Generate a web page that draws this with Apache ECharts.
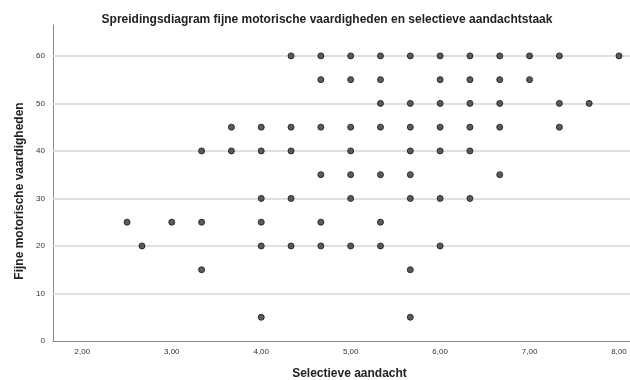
<!DOCTYPE html>
<html>
<head>
<meta charset="utf-8">
<script src="https://cdn.jsdelivr.net/npm/echarts@6/dist/echarts.min.js"></script>
<style>html,body{margin:0;padding:0;background:#fff;}#c{width:630px;height:380px;}</style>
</head>
<body>
<div id="c"></div>
<script>
// Selectieve aandacht (x) values per row of Fijne motorische vaardigheden (y)
const t = 1/3;
const rowY = [60, 55, 50, 45, 40, 35, 30, 25, 20, 15, 5];
const rowX = [
  [4+t, 4+2*t, 5, 5+t, 5+2*t, 6, 6+t, 6+2*t, 7, 7+t, 8],
  [4+2*t, 5, 5+t, 6, 6+t, 6+2*t, 7],
  [5+t, 5+2*t, 6, 6+t, 6+2*t, 7+t, 7+2*t],
  [3+2*t, 4, 4+t, 4+2*t, 5, 5+t, 5+2*t, 6, 6+t, 6+2*t, 7+t],
  [3+t, 3+2*t, 4, 4+t, 5, 5+2*t, 6, 6+t],
  [4+2*t, 5, 5+t, 5+2*t, 6+2*t],
  [4, 4+t, 5, 5+2*t, 6, 6+t],
  [2.5, 3, 3+t, 4, 4+2*t, 5+t],
  [2+2*t, 4, 4+t, 4+2*t, 5, 5+t, 6],
  [3+t, 5+2*t],
  [4, 5+2*t]
];
const xTicks = [2, 3, 4, 5, 6, 7, 8];
const yTicks = [0, 10, 20, 30, 40, 50, 60];

const points = [];
rowY.forEach((y, i) => rowX[i].forEach(x => points.push([x, y])));

const chart = echarts.init(document.getElementById('c'), null, {renderer: 'canvas'});
chart.setOption({
  backgroundColor: '#ffffff',
  animation: false,
  title: {
    text: 'Spreidingsdiagram fijne motorische vaardigheden en selectieve aandachtstaak',
    left: 322, top: 9, textAlign: 'center',
    textStyle: {fontFamily: 'Liberation Sans', fontSize: 12, fontWeight: 'bold', color: '#222'}
  },
  grid: {left: 53, top: 25, right: 0, bottom: 39, containLabel: false, outerBoundsMode: 'none'},
  xAxis: {
    type: 'value', min: 1.672, max: 8.123,
    name: 'Selectieve aandacht', nameLocation: 'middle', nameGap: 27,
    nameTextStyle: {fontFamily: 'Liberation Sans', fontSize: 12, fontWeight: 'bold', color: '#222', padding: [0, 0, 0, 16]},
    axisLine: {show: true, lineStyle: {color: '#888', width: 1}},
    axisTick: {show: false},
    splitLine: {show: false},
    axisLabel: {
      customValues: xTicks, fontFamily: 'Liberation Sans', fontSize: 8, color: '#333', margin: 7,
      formatter: v => v.toFixed(2).replace('.', ',')
    }
  },
  yAxis: {
    type: 'value', min: 0, max: 66.5,
    name: 'Fijne motorische vaardigheden', nameLocation: 'middle', nameGap: 18,
    nameTextStyle: {fontFamily: 'Liberation Sans', fontSize: 12, fontWeight: 'bold', color: '#222', padding: [0, 16, 0, 0]},
    axisLine: {show: true, lineStyle: {color: '#888', width: 1}},
    axisTick: {show: false},
    splitLine: {show: false},
    axisLabel: {customValues: yTicks, fontFamily: 'Liberation Sans', fontSize: 8, color: '#333', margin: 8}
  },
  series: [{
    type: 'scatter',
    data: points,
    symbol: 'circle', symbolSize: 6,
    itemStyle: {color: '#434b4b', borderColor: '#1e2424', borderWidth: 1, opacity: 0.9},
    markLine: {
      silent: true, symbol: 'none', label: {show: false},
      lineStyle: {color: '#d6d6d6', type: 'solid', width: 1.5},
      z: 1,
      data: yTicks.filter(v => v > 0).map(v => ({yAxis: v}))
    },
    z: 3
  }]
});
</script>
</body>
</html>
